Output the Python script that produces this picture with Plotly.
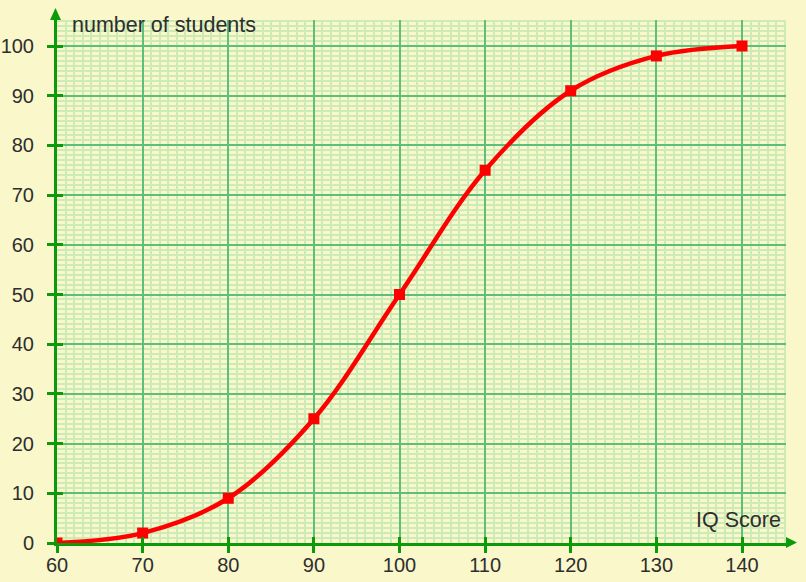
import plotly.graph_objects as go

iq_score = [60, 70, 80, 90, 100, 110, 120, 130, 140]
students = [0, 2, 9, 25, 50, 75, 91, 98, 100]
x_ticks = [60, 70, 80, 90, 100, 110, 120, 130, 140]
y_ticks = [0, 10, 20, 30, 40, 50, 60, 70, 80, 90, 100]

BG = "#FAF7CA"
AXIS = "#0A9A0A"
MAJOR = "#5CC07C"
MINOR = "#CDEBB7"
TXT = "#2E2E2E"
FONT = "Liberation Sans, Arial, sans-serif"

XMAX = 60 + 729 / 8.5625
YMAX = 523 / 4.97

fig = go.Figure()
fig.add_trace(go.Scatter(
    x=iq_score, y=students, mode="lines+markers",
    line=dict(color="#FF0000", width=4.5, shape="spline", smoothing=1.0),
    marker=dict(symbol="square", size=11, color="#FF0000"),
    cliponaxis=True, hoverinfo="skip", showlegend=False,
))

common = dict(automargin=False, fixedrange=True, zeroline=False)

fig.update_layout(
    width=806, height=582,
    margin=dict(l=57, r=20, t=20, b=39),
    paper_bgcolor=BG, plot_bgcolor=BG,
    font=dict(family=FONT, size=20, color=TXT),
    xaxis=dict(
        range=[60, XMAX], tickvals=x_ticks, ticktext=[str(v) for v in x_ticks],
        showgrid=True, gridcolor=MAJOR, gridwidth=1.8,
        minor=dict(dtick=1, tick0=60, showgrid=True, gridcolor=MINOR, gridwidth=2.4, ticks=""),
        showline=True, linecolor=AXIS, linewidth=3,
        ticks="outside", ticklen=7, tickwidth=3, tickcolor=AXIS,
        ticklabelstandoff=-5, **common,
    ),
    yaxis=dict(
        range=[0, YMAX], tickvals=y_ticks, ticktext=[str(v) for v in y_ticks],
        showgrid=True, gridcolor=MAJOR, gridwidth=1.8,
        minor=dict(dtick=1, tick0=0, showgrid=True, gridcolor=MINOR, gridwidth=2.2, ticks=""),
        showline=True, linecolor=AXIS, linewidth=3,
        ticks="outside", ticklen=7, tickwidth=3, tickcolor=AXIS,
        ticklabelstandoff=9, **common,
    ),
    xaxis2=dict(
        range=[60, XMAX], tickvals=x_ticks, showticklabels=False, overlaying="x",
        anchor="y", side="bottom", ticks="inside", ticklen=6, tickwidth=3,
        tickcolor=AXIS, showgrid=False, showline=False, **common,
    ),
    yaxis2=dict(
        range=[0, YMAX], tickvals=y_ticks, showticklabels=False, overlaying="y",
        anchor="x", side="left", ticks="inside", ticklen=6, tickwidth=3,
        tickcolor=AXIS, showgrid=False, showline=False, **common,
    ),
)

fig.add_trace(go.Scatter(x=[None], y=[None], xaxis="x2", yaxis="y2",
                         showlegend=False, hoverinfo="skip"))

# arrowheads at the ends of the axes
fig.add_shape(type="path", xref="paper", yref="paper", xsizemode="pixel", ysizemode="pixel",
              xanchor=0, yanchor=1, path="M -7,0 L 4,0 L -1.5,12 Z",
              fillcolor=AXIS, line=dict(width=0), layer="above")
fig.add_shape(type="path", xref="paper", yref="paper", xsizemode="pixel", ysizemode="pixel",
              xanchor=1, yanchor=0, path="M 0,6 L 0,-5 L 11,0.5 Z",
              fillcolor=AXIS, line=dict(width=0), layer="above")

fig.add_annotation(x=0.0205, y=1.0, xref="paper", yref="paper", xanchor="left", yanchor="middle",
                   xshift=-2, yshift=-5, text="number of students", showarrow=False,
                   font=dict(size=21.5, color=TXT, family=FONT))
fig.add_annotation(x=0.996, y=4.6, xref="paper", yref="y", xanchor="right", yanchor="middle",
                   text="IQ Score", showarrow=False,
                   font=dict(size=21.5, color=TXT, family=FONT))

fig.write_html(
    "out.html",
    config={"displayModeBar": False},
    post_script="document.body.style.margin='0';document.body.style.background='%s';" % BG,
)
